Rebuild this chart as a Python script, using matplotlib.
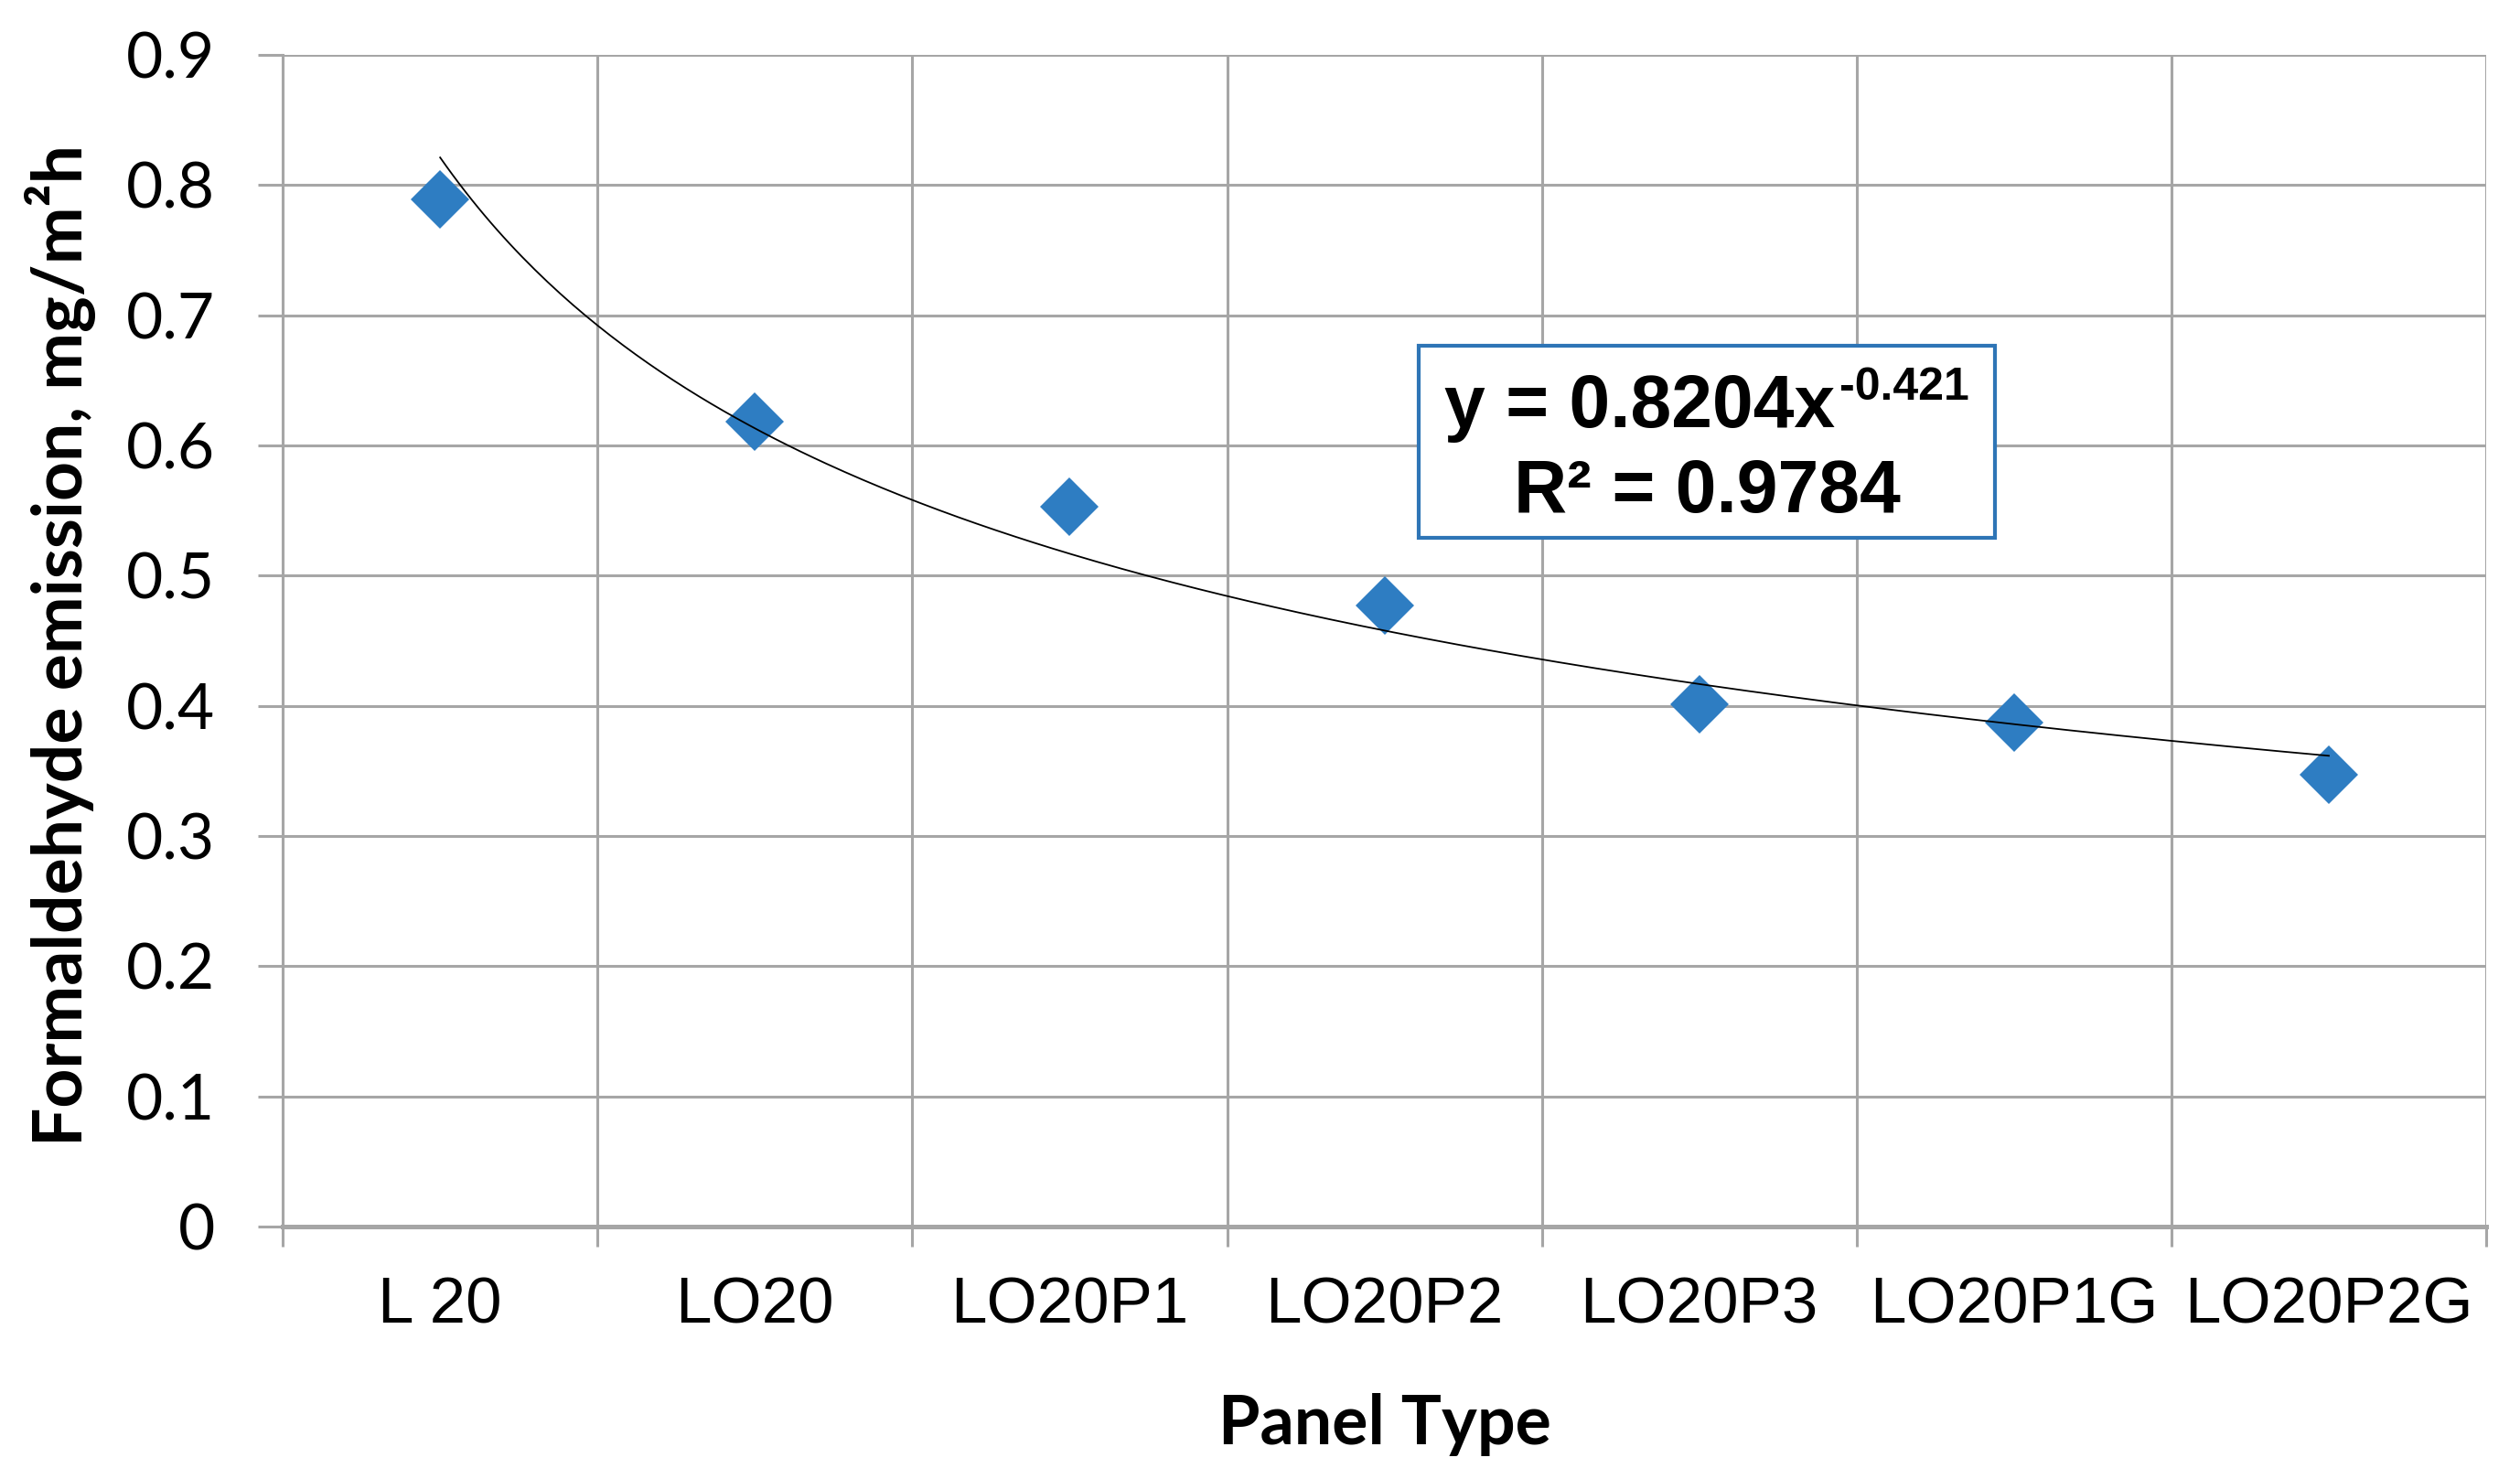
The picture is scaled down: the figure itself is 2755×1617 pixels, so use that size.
import numpy as np
import matplotlib
matplotlib.use("Agg")
import matplotlib.pyplot as plt
from matplotlib.patches import Rectangle

# data
panels = ["L 20", "LO20", "LO20P1", "LO20P2", "LO20P3", "LO20P1G", "LO20P2G"]
emission = [0.789, 0.618, 0.553, 0.477, 0.401, 0.387, 0.347]
y_ticks = [0, 0.1, 0.2, 0.3, 0.4, 0.5, 0.6, 0.7, 0.8, 0.9]
eq_text = "y = 0.8204x"
eq_exp = "-0.421"
r2_text = "R² = 0.9784"

grid_col = '#A6A6A6'
blue = '#2E7DC2'

fig = plt.figure(figsize=(27.55, 16.17), dpi=100)
ax = fig.add_axes([0.1122, 0.1707, 0.8744, 0.7922])

pos = np.arange(len(panels))
ax.plot(pos, emission, linestyle='none', marker='D', markersize=32.5,
        color=blue, markeredgewidth=0, zorder=3)

# power trendline (fit in log space, like Excel)
xs = np.arange(1, len(panels) + 1)
b, ln_a = np.polyfit(np.log(xs), np.log(emission), 1)
xf = np.linspace(1, len(panels), 300)
ax.plot(xf - 1, np.exp(ln_a) * xf ** b, color='black', linewidth=1.3, zorder=4)

ax.set_xlim(-0.5, len(panels) - 0.5)
ax.set_ylim(0, 0.9)
ax.set_yticks(y_ticks)
ax.set_yticklabels([f"{t:g}" for t in y_ticks], fontfamily='Lato', fontsize=50)
ax.set_xticks(pos)
ax.set_xticklabels(panels, fontfamily='Liberation Sans', fontsize=51)
ax.set_xticks(np.arange(-0.5, len(panels)), minor=True)

ax.tick_params(axis='x', which='major', length=0, pad=39)
ax.tick_params(axis='x', which='minor', length=16, width=2.2, color=grid_col, direction='out')
ax.tick_params(axis='y', which='major', length=19.5, width=2.2, color=grid_col, pad=34)

ax.grid(True, axis='y', which='major', color=grid_col, linewidth=2.2)
ax.grid(True, axis='x', which='minor', color=grid_col, linewidth=2.2)
ax.set_axisbelow(True)

for s in ['top', 'right']:
    ax.spines[s].set_visible(False)
ax.spines['left'].set_color(grid_col)
ax.spines['left'].set_linewidth(2.2)
ax.spines['bottom'].set_color(grid_col)
ax.spines['bottom'].set_linewidth(3.6)

fig.text(0.024, 0.564, "Formaldehyde emission, mg/m²h", rotation=90,
         ha='center', va='center', fontfamily='Lato', fontweight='bold', fontsize=54)
fig.text(0.5495, 0.0235, "Panel Type", ha='center', va='baseline',
         fontfamily='Lato', fontweight='bold', fontsize=53)

# equation box
box_x, box_y, box_w, box_h = 0.5156, 0.5878, 0.2615, 0.164
cx = box_x + box_w / 2
ax.add_patch(Rectangle((box_x, box_y), box_w, box_h, transform=ax.transAxes,
                       facecolor='white', edgecolor='#2E75B6', linewidth=3, zorder=5))
t_main = ax.text(cx, 0.6823, eq_text, transform=ax.transAxes,
                 ha='left', va='baseline', fontfamily='Liberation Sans', fontweight='bold',
                 fontsize=58, zorder=6)
t_sup = ax.text(cx, 0.6823 + 0.023, eq_exp, transform=ax.transAxes,
                ha='left', va='baseline', fontfamily='Liberation Sans', fontweight='bold',
                fontsize=36, zorder=6)
ax.text(cx, 0.6097, r2_text, transform=ax.transAxes,
        ha='center', va='baseline', fontfamily='Liberation Sans', fontweight='bold',
        fontsize=58, zorder=6)

# centre the equation line (main text + exponent) in the box
fig.canvas.draw()
inv = ax.transAxes.inverted()
bm = t_main.get_window_extent()
bs = t_sup.get_window_extent()
w_main = inv.transform((bm.x1, 0))[0] - inv.transform((bm.x0, 0))[0]
w_sup = inv.transform((bs.x1, 0))[0] - inv.transform((bs.x0, 0))[0]
gap = 0.002
x0 = cx - (w_main + gap + w_sup) / 2
t_main.set_x(x0)
t_sup.set_x(x0 + w_main + gap)

fig.savefig("out.png", dpi=100, facecolor='white')
